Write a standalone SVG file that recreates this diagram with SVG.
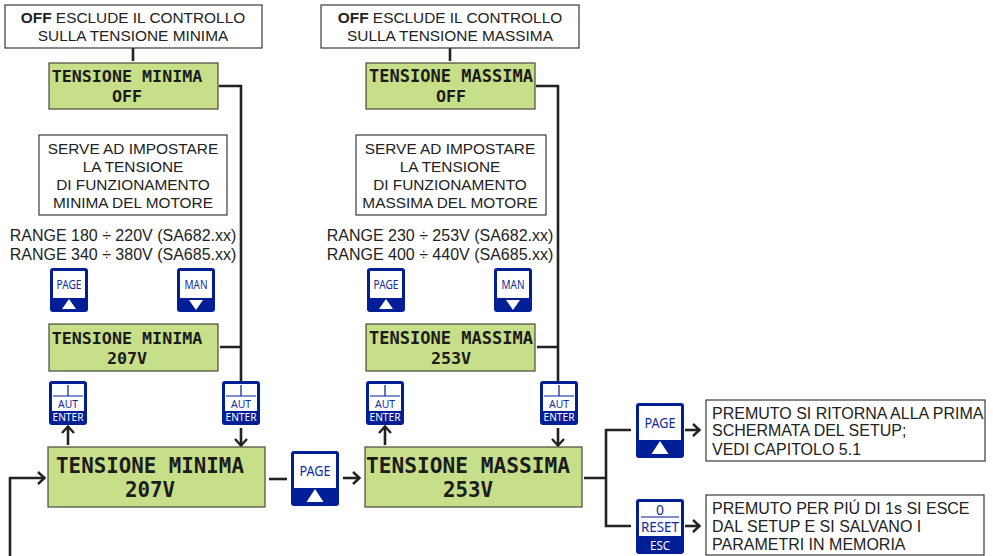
<svg xmlns="http://www.w3.org/2000/svg" width="993" height="556" viewBox="0 0 993 556">
<style>
.box{fill:#fff;stroke:#3a3a3a;stroke-width:1.2}
.lcd{fill:#c7df88;stroke:#4a4a3c;stroke-width:1.2}
.t{font-family:"Liberation Sans",Arial,sans-serif;font-size:15.4px;fill:#222;text-anchor:middle}
.r{font-family:"Liberation Sans",Arial,sans-serif;font-size:16px;fill:#222;text-anchor:middle}
.tl{font-family:"Liberation Sans",Arial,sans-serif;font-size:16px;fill:#222}
.m{font-family:"DejaVu Sans Mono",monospace;font-weight:bold;font-size:16.7px;fill:#1c1c1c;text-anchor:middle}
.mx{font-size:17px}
.b{font-family:"DejaVu Sans Mono",monospace;font-weight:bold;font-size:20.8px;fill:#1c1c1c;text-anchor:middle}
.bx{font-size:21.2px}
.k{font-family:"Noto Sans",sans-serif;fill:#0f2a9c;text-anchor:middle}
.kw{font-family:"Noto Sans",sans-serif;fill:#fff;text-anchor:middle}
.c{fill:none;stroke:#222;stroke-width:2.6}
</style>
<defs>
<marker id="ah" viewBox="0 0 10 14" refX="9" refY="7" markerWidth="10" markerHeight="14" markerUnits="userSpaceOnUse" orient="auto"><path d="M2 1L8.5 7L2 13" fill="none" stroke="#222" stroke-width="2.4"/></marker>
<g id="pageS"><rect width="38" height="44" rx="3" fill="#001e96"/><rect x="3" y="3" width="32" height="27" fill="#fff"/><text class="k" x="19" y="20.5" font-size="12" textLength="25" lengthAdjust="spacingAndGlyphs">PAGE</text><path d="M19 31L26 41H12Z" fill="#fff"/></g>
<g id="manS"><rect width="38" height="44" rx="3" fill="#001e96"/><rect x="3" y="3" width="32" height="27" fill="#fff"/><text class="k" x="19" y="20.5" font-size="12" textLength="23" lengthAdjust="spacingAndGlyphs">MAN</text><path d="M19 42L26 32H12Z" fill="#fff"/></g>
<g id="enter"><rect width="38" height="44" rx="3" fill="#001e96"/><rect x="3" y="3" width="32" height="27" fill="#fff"/><path d="M19 4V15M4 15H34" stroke="#001e96" stroke-width="1.2"/><text class="k" x="19" y="26.5" font-size="11.5" textLength="20" lengthAdjust="spacingAndGlyphs">AUT</text><text class="kw" x="19" y="40" font-size="11" textLength="31" lengthAdjust="spacingAndGlyphs">ENTER</text></g>
<g id="pageL"><rect width="48" height="55" rx="3" fill="#001e96"/><rect x="3" y="3" width="42" height="34" fill="#fff"/><text class="k" x="24" y="24.5" font-size="15" textLength="31" lengthAdjust="spacingAndGlyphs">PAGE</text><path d="M24 38L32.500 51H15.500Z" fill="#fff"/></g>
<g id="reset"><rect width="48" height="55" rx="3" fill="#001e96"/><rect x="3" y="3" width="42" height="34" fill="#fff"/><path d="M5 18H43" stroke="#001e96" stroke-width="1.2"/><text class="k" x="24" y="16" font-size="14">0</text><text class="k" x="24" y="33" font-size="15" textLength="38" lengthAdjust="spacingAndGlyphs">RESET</text><text class="kw" x="24" y="50.500" font-size="13" textLength="20" lengthAdjust="spacingAndGlyphs">ESC</text></g>
</defs>
<g id="connectors">
<path class="c" d="M133 48V61M219 86H241V381M220 347H241"/>
<path class="c" d="M450 48V61M536 86H558V381M537 347H558"/>
<path class="c" marker-end="url(#ah)" d="M68 445V426"/>
<path class="c" marker-end="url(#ah)" d="M241 428V446"/>
<path class="c" marker-end="url(#ah)" d="M385 445V426"/>
<path class="c" marker-end="url(#ah)" d="M558 428V446"/>
<path class="c" marker-end="url(#ah)" d="M10 556V478H45"/>
<path class="c" d="M269 479H287"/>
<path class="c" marker-end="url(#ah)" d="M343 478H360"/>
<path class="c" d="M584 478H606M631 430H606V526H631"/>
<path class="c" marker-end="url(#ah)" d="M685 430H700"/>
<path class="c" marker-end="url(#ah)" d="M685 526H700"/>
</g>
<g id="note-off-min"><rect class="box" x="5" y="5" width="257" height="43"/><text class="t" x="133" y="23"><tspan font-weight="bold">OFF</tspan> ESCLUDE IL CONTROLLO</text><text class="t" x="133" y="41">SULLA TENSIONE MINIMA</text></g>
<g id="note-off-max"><rect class="box" x="321" y="5" width="258" height="43"/><text class="t" x="450" y="23"><tspan font-weight="bold">OFF</tspan> ESCLUDE IL CONTROLLO</text><text class="t" x="450" y="41">SULLA TENSIONE MASSIMA</text></g>
<g id="lcd-min-off"><rect class="lcd" x="49" y="63" width="169" height="46"/><text class="m" x="127" y="82">TENSIONE MINIMA</text><text class="m" x="127" y="102">OFF</text></g>
<g id="lcd-max-off"><rect class="lcd" x="366" y="63" width="169" height="46"/><text class="m mx" x="451" y="82">TENSIONE MASSIMA</text><text class="m" x="451" y="102">OFF</text></g>
<g id="note-min"><rect class="box" x="39" y="135" width="188" height="80"/><text class="t" x="133" y="154">SERVE AD IMPOSTARE</text><text class="t" x="133" y="172">LA TENSIONE</text><text class="t" x="133" y="190">DI FUNZIONAMENTO</text><text class="t" x="133" y="208">MINIMA DEL MOTORE</text></g>
<g id="note-max"><rect class="box" x="356" y="135" width="190" height="80"/><text class="t" x="450" y="154">SERVE AD IMPOSTARE</text><text class="t" x="450" y="172">LA TENSIONE</text><text class="t" x="450" y="190">DI FUNZIONAMENTO</text><text class="t" x="450" y="208">MASSIMA DEL MOTORE</text></g>
<g id="range-min"><text class="r" x="123" y="241">RANGE 180 ÷ 220V (SA682.xx)</text><text class="r" x="123" y="260">RANGE 340 ÷ 380V (SA685.xx)</text></g>
<g id="range-max"><text class="r" x="440" y="241">RANGE 230 ÷ 253V (SA682.xx)</text><text class="r" x="440" y="260">RANGE 400 ÷ 440V (SA685.xx)</text></g>
<g id="btn-page-min"><use href="#pageS" x="50" y="268"/></g>
<g id="btn-man-min"><use href="#manS" x="177" y="268"/></g>
<g id="btn-page-max"><use href="#pageS" x="367" y="268"/></g>
<g id="btn-man-max"><use href="#manS" x="494" y="268"/></g>
<g id="lcd-min-val"><rect class="lcd" x="49" y="324" width="169" height="47"/><text class="m" x="127" y="344">TENSIONE MINIMA</text><text class="m" x="127" y="364">207V</text></g>
<g id="lcd-max-val"><rect class="lcd" x="366" y="324" width="169" height="47"/><text class="m mx" x="451" y="344">TENSIONE MASSIMA</text><text class="m" x="451" y="364">253V</text></g>
<g id="btn-enter-1"><use href="#enter" x="49" y="381"/></g>
<g id="btn-enter-2"><use href="#enter" x="222" y="381"/></g>
<g id="btn-enter-3"><use href="#enter" x="366" y="381"/></g>
<g id="btn-enter-4"><use href="#enter" x="540" y="381"/></g>
<g id="lcd-min-big"><rect class="lcd" x="48" y="447" width="217" height="60"/><text class="b" x="150" y="473">TENSIONE MINIMA</text><text class="b" x="150" y="497">207V</text></g>
<g id="lcd-max-big"><rect class="lcd" x="365" y="447" width="217" height="60"/><text class="b bx" x="468" y="473">TENSIONE MASSIMA</text><text class="b" x="468" y="497">253V</text></g>
<g id="btn-page-mid"><use href="#pageL" x="291" y="451"/></g>
<g id="btn-page-right"><use href="#pageL" x="636" y="403"/></g>
<g id="btn-reset"><use href="#reset" x="636" y="499"/></g>
<g id="note-page"><rect class="box" x="706" y="400" width="279" height="61"/><text class="tl" x="712" y="419">PREMUTO SI RITORNA ALLA PRIMA</text><text class="tl" x="712" y="436">SCHERMATA DEL SETUP;</text><text class="tl" x="712" y="455">VEDI CAPITOLO 5.1</text></g>
<g id="note-reset"><rect class="box" x="706" y="495" width="278" height="60"/><text class="tl" x="712" y="514">PREMUTO PER PIÚ DI 1s SI ESCE</text><text class="tl" x="712" y="532">DAL SETUP E SI SALVANO I</text><text class="tl" x="712" y="550">PARAMETRI IN MEMORIA</text></g>
</svg>
